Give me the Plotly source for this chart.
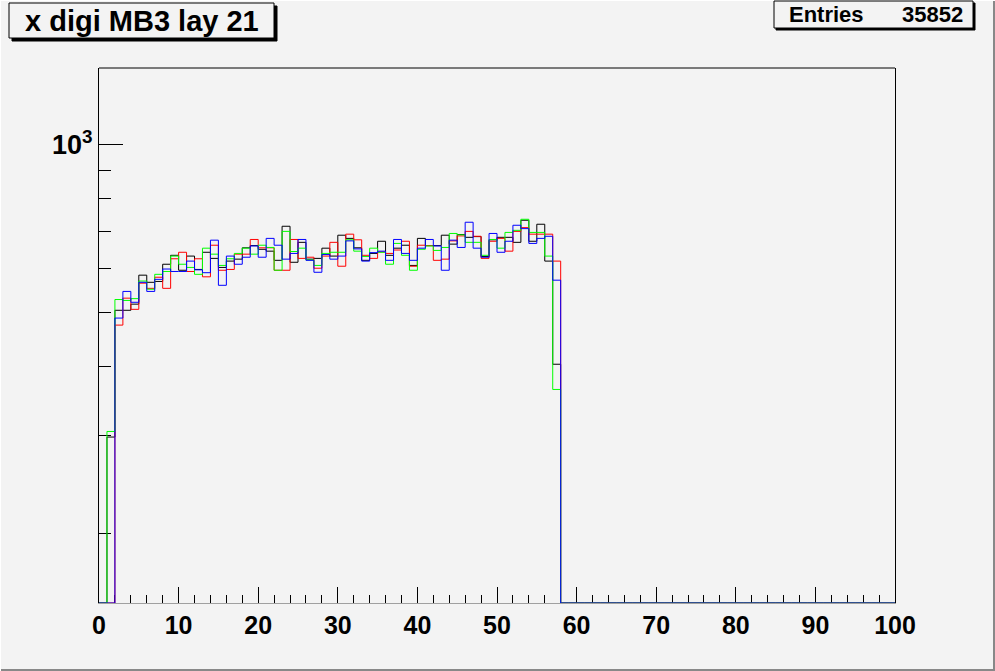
import numpy as np
import plotly.graph_objects as go

# ---------------- data (bins of width 1 on 0..100; values for bins 1..57) ----------------
n_bins = 100
first_bin = 1
black_vals = [298, 504, 504, 517, 583, 566, 568, 610, 633, 595, 631, 597, 641, 625, 602, 618, 623, 653, 659, 649,
              644, 620, 714, 615, 668, 623, 625, 652, 631, 688, 679, 653, 620, 638, 671, 633, 652, 660, 607, 679,
              659, 659, 688, 663, 690, 682, 684, 630, 675, 682, 682, 668, 732, 671, 720, 618, 403]
red_vals = [0, 474, 530, 506, 564, 552, 578, 552, 624, 641, 592, 624, 579, 660, 595, 597, 636, 636, 676, 653,
            653, 595, 595, 676, 625, 628, 600, 631, 668, 605, 691, 675, 633, 625, 642, 638, 647, 671, 605, 660,
            659, 620, 623, 672, 686, 699, 685, 625, 671, 679, 644, 699, 710, 691, 691, 691, 618]
green_vals = [305, 527, 525, 529, 569, 550, 585, 592, 631, 610, 602, 585, 652, 636, 607, 624, 638, 652, 636, 660,
              654, 595, 699, 643, 652, 621, 607, 638, 641, 641, 675, 644, 630, 652, 641, 610, 665, 633, 595, 649,
              658, 646, 654, 693, 689, 668, 668, 633, 676, 652, 696, 702, 735, 696, 696, 631, 363]
blue_vals = [0, 488, 545, 521, 566, 545, 573, 598, 592, 592, 618, 596, 589, 674, 559, 631, 610, 628, 658, 628,
             679, 660, 623, 638, 676, 620, 590, 635, 623, 631, 672, 650, 618, 640, 644, 620, 676, 638, 620, 652,
             676, 658, 595, 674, 654, 726, 652, 628, 693, 641, 671, 717, 707, 665, 679, 685, 571]

series = [("black", black_vals), ("red", red_vals), ("#00ff00", green_vals), ("blue", blue_vals)]

x_tick_vals = list(range(0, 101, 10))
y_major_vals = [1000]
y_major_text = ["10<sup>3</sup>"]
y_minor_vals = [200, 300, 400, 500, 600, 700, 800, 900]

title_text = "x digi MB3 lay 21"
stats_label = "Entries"
stats_value = "35852"

# ---------------- layout geometry ----------------
W, H = 995, 671
L, R, T, B = 99, 100, 68, 68
PW, PH = W - L - R, H - T - B
y_log_range = [2.1755, 3.1386]
ymin_val = 10 ** y_log_range[0]
BG = "#f3f3f3"
FONT = "Liberation Sans, Arial, Helvetica, sans-serif"


def pxx(px):
    return (px - L) / PW


def pxy(py):
    return (H - B - py) / PH


edges = np.arange(n_bins + 1)

fig = go.Figure()
for color, vals in series:
    full = np.zeros(n_bins)
    full[first_bin:first_bin + len(vals)] = vals
    full = np.maximum(full, ymin_val)  # empty bins drawn on the frame bottom, as ROOT does
    yy = np.append(full, full[-1])
    fig.add_trace(go.Scatter(x=edges, y=yy, mode="lines", line=dict(color=color, width=1, shape="hv"),
                             showlegend=False, hoverinfo="skip"))

fig.update_layout(
    width=W, height=H,
    margin=dict(l=L, r=R, t=T, b=B, pad=0),
    paper_bgcolor=BG, plot_bgcolor=BG,
    showlegend=False,
    font=dict(family=FONT, color="black"),
)

fig.update_xaxes(
    range=[0, 100], tickmode="array", tickvals=x_tick_vals,
    ticks="inside", ticklen=16, tickwidth=1, tickcolor="black",
    showline=True, linecolor="#a0a0a0", linewidth=1, mirror=False,
    showgrid=False, zeroline=False, layer="below traces",
    tickfont=dict(family=FONT, size=25, color="black", weight="bold"),
    minor=dict(dtick=2, ticks="inside", ticklen=8, tickcolor="black", tickwidth=1, showgrid=False),
)
fig.update_yaxes(
    type="log", range=y_log_range, tickmode="array", tickvals=y_major_vals, ticktext=y_major_text,
    ticks="inside", ticklen=24, tickwidth=1, tickcolor="black",
    showline=True, linecolor="black", linewidth=1, mirror=True,
    showgrid=False, zeroline=False, layer="below traces",
    tickfont=dict(family=FONT, size=27, color="black", weight="bold"),
    minor=dict(tickmode="array", tickvals=y_minor_vals, ticks="inside", ticklen=12,
               tickcolor="black", tickwidth=1, showgrid=False),
)

shapes = []
# top frame line
shapes.append(dict(type="line", xref="paper", yref="paper", x0=0, x1=1, y0=1, y1=1,
                   line=dict(color="black", width=1)))
# canvas bevel border (right / bottom darker)
shapes.append(dict(type="line", xref="paper", yref="paper", x0=pxx(994), x1=pxx(994), y0=pxy(0), y1=pxy(671),
                   line=dict(color="#888888", width=2)))
shapes.append(dict(type="line", xref="paper", yref="paper", x0=pxx(0), x1=pxx(995), y0=pxy(670), y1=pxy(670),
                   line=dict(color="#888888", width=2)))
shapes.append(dict(type="line", xref="paper", yref="paper", x0=pxx(0), x1=pxx(995), y0=pxy(0.5), y1=pxy(0.5),
                   line=dict(color="white", width=1)))
shapes.append(dict(type="line", xref="paper", yref="paper", x0=pxx(0.5), x1=pxx(0.5), y0=pxy(0), y1=pxy(671),
                   line=dict(color="white", width=1)))


def pave(x0, y0, x1, y1, sh=3):
    shapes.append(dict(type="rect", xref="paper", yref="paper",
                       x0=pxx(x0 + sh), x1=pxx(x1 + sh), y0=pxy(y0 + sh), y1=pxy(y1 + sh),
                       line=dict(color="black", width=1), fillcolor="black"))
    shapes.append(dict(type="rect", xref="paper", yref="paper",
                       x0=pxx(x0), x1=pxx(x1), y0=pxy(y0), y1=pxy(y1),
                       line=dict(color="black", width=1), fillcolor=BG))


pave(9, 3, 274, 38)
pave(774, 1, 973, 28, sh=2)
fig.update_layout(shapes=shapes)

fig.add_annotation(x=pxx(141.5), y=pxy(21), xref="paper", yref="paper", text=title_text, showarrow=False,
                   xanchor="center", yanchor="middle",
                   font=dict(family=FONT, size=29, color="black", weight="bold"))
fig.add_annotation(x=pxx(787), y=pxy(15), xref="paper", yref="paper", text=stats_label, showarrow=False,
                   xanchor="left", yanchor="middle",
                   font=dict(family=FONT, size=22, color="black", weight="bold"))
fig.add_annotation(x=pxx(965), y=pxy(15), xref="paper", yref="paper", text=stats_value, showarrow=False,
                   xanchor="right", yanchor="middle",
                   font=dict(family=FONT, size=22, color="black", weight="bold"))

fig.write_html("out.html", config={"displayModeBar": False},
               post_script="document.body.style.margin='0';document.body.style.padding='0';"
                           "document.body.style.background='" + BG + "';")
